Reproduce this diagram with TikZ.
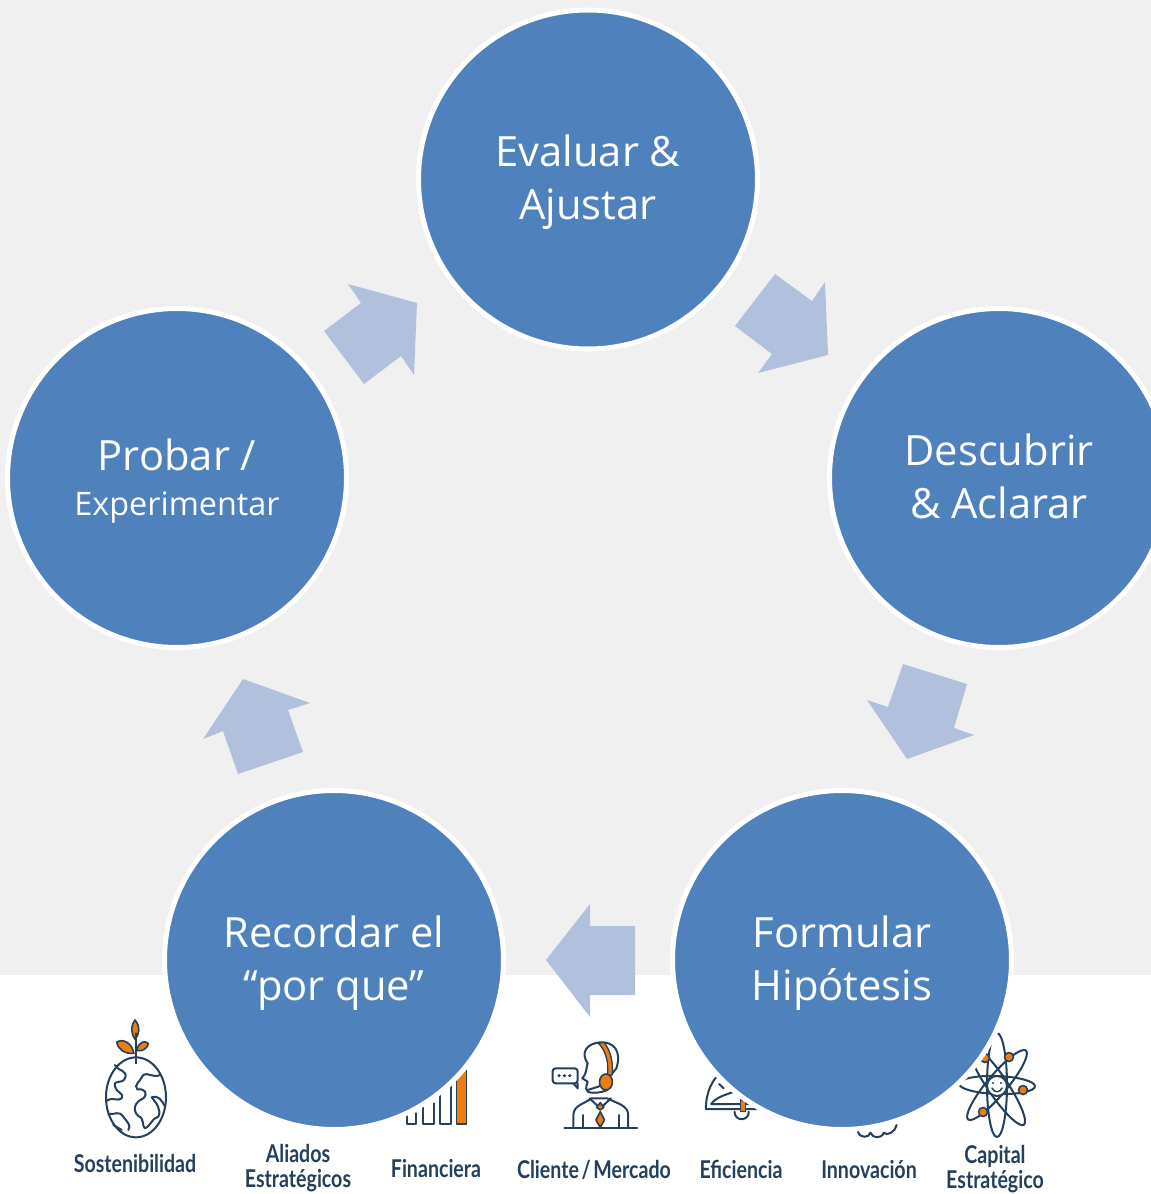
\documentclass[tikz,border=0pt]{standalone}
\usepackage{fontspec}
\setmainfont{Open Sans}
\newfontfamily\labfont[FakeStretch=0.8,WordSpace=0.55]{Lato}
\definecolor{bggray}{HTML}{F0F0F0}
\definecolor{cblue}{HTML}{4F81BD}
\definecolor{abl}{HTML}{B1C1DD}
\definecolor{idark}{HTML}{24405A}
\definecolor{iorange}{HTML}{ED7D0F}
\tikzset{
 stage/.style={circle,fill=cblue,draw=white,line width=5pt,minimum size=339pt,inner sep=0pt,outer sep=0pt},
 stagetext/.style={text=white,align=center,inner sep=0pt,font=\fontsize{41.7}{53}\selectfont},
 flow/.style={fill=abl,draw=none},
 lab/.style={text=idark,align=center,inner sep=0pt,font=\labfont\bfseries\fontsize{24.5}{25}\selectfont},
 ic/.style={draw=idark,line width=2pt,line join=round,line cap=round,fill=none},
 ico/.style={draw=idark,line width=1.6pt,fill=iorange,line join=round},
}
\begin{document}
\begin{tikzpicture}[x=1pt,y=-1pt]
\useasboundingbox (0,0) rectangle (1151,1194);
\clip (0,0) rectangle (1151,1194);
\fill[white] (0,0) rectangle (1151,1194);
\fill[bggray] (0,0) rectangle (1151,975);

% Globe icon and bars
\begin{scope}[shift={(50,1010)},x=0.3333pt,y=-0.3333pt]
 \draw[ic] (258,262) ellipse [x radius=90,y radius=120];
 \draw[ic] (195,165) .. controls (205,185) and (235,180) .. (225,205) .. controls (215,225) and (190,205) .. (195,230) .. controls (200,250) and (225,250) .. (215,265) .. controls (205,275) and (185,260) .. (170,272);
 \draw[ic] (330,195) .. controls (310,205) and (290,185) .. (280,195) .. controls (270,215) and (250,225) .. (262,238) .. controls (285,235) and (295,250) .. (280,265) .. controls (255,275) and (245,300) .. (265,318) .. controls (285,325) and (275,350) .. (285,355) .. controls (305,345) and (305,325) .. (325,320) .. controls (335,300) and (320,280) .. (305,262) .. controls (325,255) and (335,270) .. (345,290);
 \draw[ic] (175,312) .. controls (195,315) and (205,300) .. (220,320) .. controls (230,335) and (245,345) .. (235,360);
 \draw[ic] (190,345) -- (215,360);
 \draw[ico] (255,30) .. controls (240,50) and (245,75) .. (255,88) .. controls (268,75) and (272,50) .. (255,30) -- cycle;
 \draw[ico] (200,97) .. controls (215,85) and (245,95) .. (252,130) .. controls (225,132) and (205,120) .. (200,97) -- cycle;
 \draw[ico] (295,100) .. controls (285,90) and (265,95) .. (260,122) .. controls (280,125) and (292,115) .. (295,100) -- cycle;
 \draw[ic] (258,70) -- (258,160);
 \draw[ic] (1070,310) -- (1070,342) -- (1098,342) -- (1098,310);
 \draw[ic] (1120,290) -- (1120,342) -- (1152,342) -- (1152,280);
 \draw[ic] (1170,250) -- (1170,342) -- (1202,342) -- (1202,230);
 \draw[ico] (1220,342) rectangle (1250,170);
\end{scope}

% Person, gauge and squiggle icons
\begin{scope}[shift={(500,1010)},x=0.358pt,y=-0.3333pt]
 \draw[ic] (180,353) -- (383,353);
 \draw[ic,rounded corners=3pt] (147,175) rectangle (217,220);
 \draw[ic] (205,220) -- (217,235) -- (217,220);
 \fill[idark] (165,197) circle (5) (180,197) circle (5) (195,197) circle (5);
 \draw[ic] (300,240) .. controls (280,250) and (250,250) .. (245,245) .. controls (235,230) and (245,225) .. (245,215) -- (230,205) .. controls (245,185) and (240,170) .. (245,160) .. controls (225,130) and (240,100) .. (280,97) .. controls (320,95) and (340,125) .. (325,175) -- (310,195);
 \draw[draw=idark,fill=iorange,line width=1.3pt] (275,100) .. controls (295,120) and (305,160) .. (300,195) -- (313,195) .. controls (318,150) and (305,115) .. (290,97) -- cycle;
 \draw[ico] (296,216) ellipse [x radius=18,y radius=24];
 \draw[ic] (245,240) -- (280,228);
 \draw[ic] (205,353) -- (205,315) .. controls (205,285) and (240,280) .. (255,265) -- (300,265) .. controls (325,280) and (358,285) .. (358,315) -- (358,353);
 \draw[ic] (232,315) -- (232,353) (332,315) -- (332,353);
 \draw[ic] (250,265) -- (280,295) -- (310,265);
 \draw[ico] (280,278) -- (290,292) -- (280,300) -- (270,292) -- cycle;
 \draw[ico] (280,305) -- (292,330) -- (280,352) -- (268,330) -- cycle;
 \draw[ic] (605,200) .. controls (585,225) and (575,260) .. (575,297) -- (720,297);
 \draw[ic] (625,235) -- (612,222);
 \draw[ic] (655,245) .. controls (625,255) and (600,265) .. (590,282) -- (720,282);
 \draw[ic] (655,305) .. controls (655,335) and (695,335) .. (695,305);
 \draw[ico] (672,270) rectangle (686,305);
 \draw[ic] (1000,365) .. controls (1005,385) and (1030,385) .. (1035,368) .. controls (1040,385) and (1065,388) .. (1072,368) .. controls (1080,380) and (1105,365) .. (1108,345);
\end{scope}

% Atom icon
\draw[ic] (997,1085) ellipse [x radius=10,y radius=52];
\draw[ic,rotate around={34:(997,1085)}] (997,1085) ellipse [x radius=10,y radius=48];
\draw[ic,rotate around={-40:(997,1085)}] (997,1085) ellipse [x radius=10,y radius=45];
\draw[ic,rotate around={88:(997,1085)}] (997,1085) ellipse [x radius=9,y radius=38];
\draw[ic,fill=white] (997,1086) circle (10);
\fill[idark] (993,1083) circle (1.2) (1001,1083) circle (1.2);
\draw[ic,line width=1.5pt] (992,1088) .. controls (994,1093) and (1000,1093) .. (1002,1088);
\draw[ico] (1009,1057) circle (4.5);
\draw[ico] (1023,1090) circle (4.5);
\draw[ico] (983,1112) circle (4.5);
\draw[ico] (985,1058) circle (4.5);

% Icon captions
\node[lab] (l1) at (135,1163) {Sostenibilidad};
\node[lab] (l2) at (298,1168) {Aliados\\Estratégicos};
\node[lab] (l3) at (436,1168) {Financiera};
\node[lab] (l4) at (594,1170) {Cliente / Mercado};
\node[lab] (l5) at (741,1169) {Eficiencia};
\node[lab] (l6) at (869,1169) {Innovación};
\node[lab] (l7) at (995,1169) {Capital\\Estratégico};

% Block arrows
\fill[flow] (775,274) -- (812,301) -- (825,282) -- (828,355) -- (758,373) -- (772,354) -- (735,326) -- cycle;
\fill[flow] (903,664) -- (967,684) -- (954,728) -- (974,735) -- (907,759) -- (867,700) -- (888,707) -- cycle;
\fill[flow] (635,926) -- (635,995) -- (590,995) -- (590,1017) -- (546,960) -- (590,904) -- (590,926) -- cycle;
\fill[flow] (303,752) -- (238,774) -- (223,731) -- (203,739) -- (243,679) -- (310,703) -- (288,710) -- cycle;
\fill[flow] (364,384) -- (324,331) -- (361,303) -- (348,284) -- (417,303) -- (414,375) -- (401,356) -- cycle;

% Stages
\node[stage] (top) at (588,179.5) {};
\node[stage] (right) at (999,478) {};
\node[stage] (br) at (842,960) {};
\node[stage] (bl) at (334,960) {};
\node[stage] (left) at (177,478) {};
\node[stagetext] (toptext) at (588,182) {Evaluar \&\\Ajustar};
\node[stagetext] (righttext) at (999,476) {Descubrir\\\& Aclarar};
\node[stagetext] (brtext) at (842,963.5) {Formular\\Hipótesis};
\node[stagetext] (bltext) at (334,963.5) {Recordar el\\“por que”};
\node[stagetext] (lefttext) at (177,481) {Probar /\\[-8pt]{\fontsize{32.4}{38}\selectfont Experimentar}};
\end{tikzpicture}
\end{document}
